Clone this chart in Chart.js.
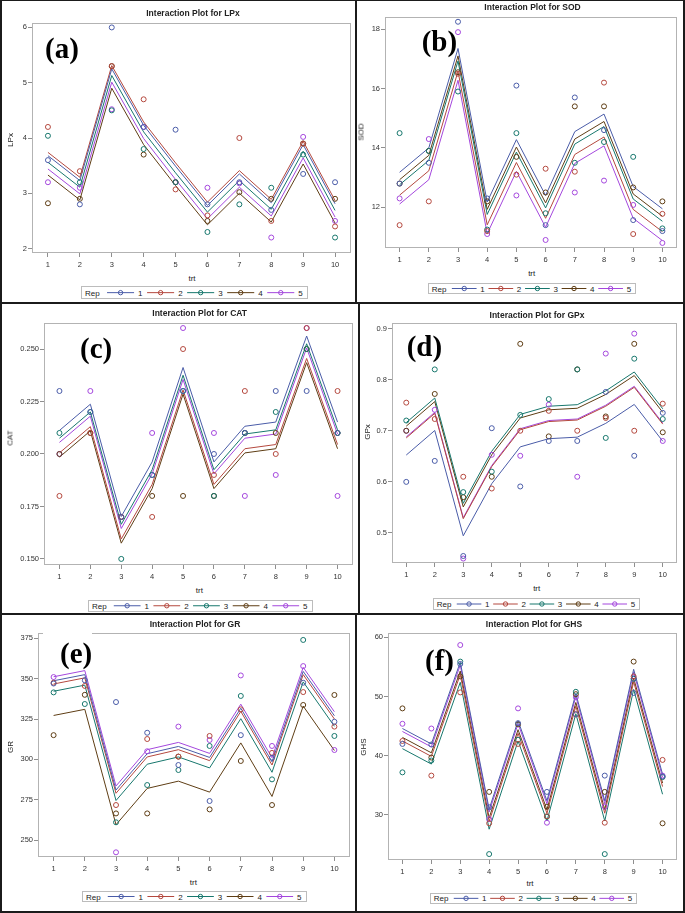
<!DOCTYPE html>
<html>
<head>
<meta charset="utf-8">
<title>Interaction plots</title>
<script src="https://cdn.jsdelivr.net/npm/chart.js@4.4.1/dist/chart.umd.min.js"></script>
<style>
  body { margin: 0; background: #fff; }
  #fig { position: relative; width: 685px; height: 913px; overflow: hidden; background: #fff;
         font-family: 'Liberation Sans', Arial, sans-serif; color: #222; }
  #fig canvas { position: absolute; }
  .rule { position: absolute; background: #1b1b1b; }
  .ptitle { position: absolute; font-size: 8.5px; font-weight: bold; white-space: nowrap; transform: translate(-50%, -50%); }
  .xlab { position: absolute; font-size: 8px; transform: translate(-50%, -50%); }
  .ylab { position: absolute; font-size: 8px; white-space: nowrap; transform: translate(-50%, -50%) rotate(-90deg); }
  .tag { position: absolute; font-family: 'Liberation Serif', 'Times New Roman', serif; font-weight: bold;
         font-size: 29px; line-height: 29px; color: #000; }
  .legend { position: absolute; border: 1px solid #bcbcbc; box-sizing: border-box; background: #fff; }
</style>
</head>
<body>
<div id="fig"></div>
<script>
// shared categories
const trt = [1, 2, 3, 4, 5, 6, 7, 8, 9, 10];
const reps = ['1', '2', '3', '4', '5'];
const repColors = ['#4a5ca8', '#b4483e', '#17776d', '#5e3d14', '#a447dd'];

// (a) LPx  - fitted lines per Rep, then observed values per Rep
const lpxTicks = [2, 3, 4, 5, 6];
const lpxFit = [
  [3.68, 3.23, 5.25, 4.23, 3.49, 2.78, 3.35, 2.83, 3.88, 2.81],
  [3.74, 3.29, 5.31, 4.29, 3.55, 2.84, 3.41, 2.89, 3.94, 2.87],
  [3.56, 3.11, 5.13, 4.11, 3.37, 2.66, 3.23, 2.71, 3.76, 2.69],
  [3.33, 2.88, 4.90, 3.88, 3.14, 2.43, 3.00, 2.48, 3.53, 2.46],
  [3.44, 2.99, 5.01, 3.99, 3.25, 2.54, 3.11, 2.59, 3.64, 2.57]
];
const lpxObs = [
  [3.6, 2.8, 6.0, 4.2, 4.15, 2.8, 3.2, 2.7, 3.35, 3.2],
  [4.2, 3.4, 5.3, 4.7, 3.07, 2.6, 4.0, 2.5, 3.9, 2.4],
  [4.04, 3.2, 4.5, 3.8, 3.2, 2.3, 2.8, 3.1, 3.7, 2.2],
  [2.82, 2.9, 5.3, 3.7, 3.2, 2.5, 3.02, 2.9, 3.9, 2.9],
  [3.2, 3.1, 4.52, 4.2, 3.2, 3.1, 3.18, 2.2, 4.02, 2.5]
];

// (b) SOD
const sodTicks = [12, 14, 16, 18];
const sodFit = [
  [13.18, 14.0, 17.35, 12.18, 14.28, 12.4, 14.55, 15.14, 12.7, 11.95],
  [12.41, 13.23, 16.58, 11.41, 13.51, 11.63, 13.78, 14.37, 11.93, 11.18],
  [12.76, 13.58, 16.93, 11.76, 13.86, 11.98, 14.13, 14.72, 12.28, 11.53],
  [12.93, 13.75, 17.1, 11.93, 14.03, 12.15, 14.3, 14.89, 12.45, 11.7],
  [12.11, 12.93, 16.28, 11.11, 13.21, 11.33, 13.48, 14.07, 11.63, 10.88]
];
const sodObs = [
  [12.8, 13.5, 18.25, 12.3, 16.1, 11.4, 15.7, 14.6, 11.57, 11.2],
  [11.4, 12.2, 16.5, 11.2, 13.1, 13.3, 13.2, 16.2, 11.1, 11.78],
  [14.5, 13.9, 15.9, 11.25, 14.5, 11.8, 13.5, 14.2, 13.7, 11.29],
  [12.8, 13.9, 16.55, 12.2, 13.7, 12.5, 15.4, 15.4, 12.67, 12.2],
  [12.3, 14.3, 17.9, 11.1, 12.4, 10.9, 12.5, 12.9, 12.08, 10.8]
];

// (c) CAT
const catTicks = [0.150, 0.175, 0.200, 0.225, 0.250];
const catFit = [
  [0.2112, 0.2237, 0.1702, 0.1962, 0.2412, 0.1962, 0.2132, 0.2152, 0.2562, 0.2152],
  [0.2005, 0.2130, 0.1595, 0.1855, 0.2305, 0.1855, 0.2025, 0.2045, 0.2455, 0.2045],
  [0.2075, 0.2200, 0.1665, 0.1925, 0.2375, 0.1925, 0.2095, 0.2115, 0.2525, 0.2115],
  [0.1985, 0.2110, 0.1575, 0.1835, 0.2285, 0.1835, 0.2005, 0.2025, 0.2435, 0.2025],
  [0.2055, 0.2180, 0.1645, 0.1905, 0.2355, 0.1905, 0.2075, 0.2095, 0.2505, 0.2095]
];
const catObs = [
  [0.23, 0.22, 0.17, 0.19, 0.23, 0.20, 0.21, 0.23, 0.23, 0.21],
  [0.18, 0.21, 0.17, 0.17, 0.25, 0.19, 0.23, 0.20, 0.26, 0.23],
  [0.21, 0.22, 0.15, 0.19, 0.23, 0.18, 0.21, 0.22, 0.25, 0.21],
  [0.20, 0.21, 0.17, 0.18, 0.18, 0.18, 0.21, 0.21, 0.25, 0.21],
  [0.20, 0.23, 0.17, 0.21, 0.26, 0.21, 0.18, 0.19, 0.26, 0.18]
];

// (d) GPx
const gpxTicks = [0.5, 0.6, 0.7, 0.8, 0.9];
const gpxFit = [
  [0.6525, 0.7005, 0.4945, 0.5965, 0.6685, 0.6845, 0.6875, 0.7145, 0.7515, 0.6795],
  [0.686, 0.734, 0.528, 0.630, 0.702, 0.718, 0.721, 0.748, 0.785, 0.713],
  [0.716, 0.764, 0.558, 0.660, 0.732, 0.748, 0.751, 0.778, 0.815, 0.743],
  [0.709, 0.757, 0.551, 0.653, 0.725, 0.741, 0.744, 0.771, 0.808, 0.736],
  [0.688, 0.736, 0.530, 0.632, 0.704, 0.720, 0.723, 0.750, 0.787, 0.715]
];
const gpxObs = [
  [0.60, 0.641, 0.455, 0.705, 0.591, 0.68, 0.68, 0.776, 0.651, 0.735],
  [0.755, 0.723, 0.61, 0.587, 0.70, 0.739, 0.70, 0.725, 0.70, 0.753],
  [0.72, 0.82, 0.58, 0.62, 0.731, 0.762, 0.82, 0.686, 0.841, 0.723],
  [0.70, 0.772, 0.57, 0.61, 0.87, 0.689, 0.82, 0.728, 0.87, 0.697],
  [0.70, 0.741, 0.45, 0.653, 0.651, 0.751, 0.61, 0.851, 0.89, 0.68]
];

// (e) GR
const grTicks = [250, 275, 300, 325, 350, 375];
const grFit = [
  [348.7, 352.5, 281, 303.5, 308, 301.2, 331.7, 298.5, 354.5, 327],
  [346.7, 350.5, 279, 301.5, 306, 299.2, 329.7, 296.5, 352.5, 325],
  [342.2, 346, 274.5, 297, 301.5, 294.7, 325.2, 292, 348, 320.5],
  [327.2, 331, 259.5, 282, 286.5, 279.7, 310.2, 277, 333, 305.5],
  [351.2, 355, 283.5, 306, 310.5, 303.7, 334.2, 301, 357, 329.5]
];
const grObs = [
  [347, 349, 335.5, 316.5, 296.5, 274.2, 315, 301, 347.5, 323.3],
  [347.5, 345.5, 271.7, 312.6, 301.7, 314.5, 331, 304, 341.7, 320.3],
  [341.5, 334.3, 261, 284.1, 293.4, 308.3, 339.3, 287.6, 374, 314.5],
  [315, 340, 266.5, 266.5, 301.7, 269, 299, 271.7, 333.7, 339.9],
  [351, 371, 242.4, 305, 320.3, 312, 352, 308.3, 357.8, 305.8]
];

// (f) GHS
const ghsTicks = [30, 40, 50, 60];
const ghsFit = [
  [44.6, 42.0, 55.8, 31.0, 45.9, 32.4, 50.5, 32.4, 54.6, 36.9],
  [42.5, 39.9, 53.7, 28.9, 43.8, 30.3, 48.4, 30.3, 52.5, 34.8],
  [41.2, 38.6, 52.4, 27.6, 42.5, 29.0, 47.1, 29.0, 51.2, 33.5],
  [43.1, 40.5, 54.3, 29.5, 44.4, 30.9, 49.0, 30.9, 53.1, 35.4],
  [44.1, 41.5, 55.3, 30.5, 45.4, 31.9, 50.0, 31.9, 54.1, 36.4]
];
const ghsObs = [
  [42, 41.9, 55.5, 31.3, 45.5, 33.9, 47, 36.65, 50.6, 36.5],
  [42.5, 36.65, 50.7, 28.6, 42, 29.8, 47, 28.7, 53.4, 39.3],
  [37.2, 39.2, 55.9, 23.4, 42.7, 29.7, 50.8, 23.4, 53, 36.4],
  [48, 39.7, 53.4, 33.9, 45.3, 31.4, 50.4, 33.9, 55.9, 28.6],
  [45.4, 44.6, 58.7, 29.3, 48, 28.7, 49.9, 31.4, 53, 36.65]
];

// layout of the six panels (page pixels)
const panels = [
  { tag: '(a)', title: 'Interaction Plot for LPx', yName: 'LPx', fit: lpxFit, obs: lpxObs, ticks: lpxTicks, dec: 0,
    yMin: 1.92, yMax: 6.08, canvas: [2, 17, 354, 254], frame: [32, 23, 352, 253],
    titleAt: [193, 13], yLabAt: [10, 140], xLabAt: [192, 278], legend: [80.7, 285.7, 227.3, 13.3], tagAt: [45, 33.7] },
  { tag: '(b)', title: 'Interaction Plot for SOD', yName: 'SOD', fit: sodFit, obs: sodObs, ticks: sodTicks, dec: 0,
    yMin: 10.63, yMax: 18.41, canvas: [358, 11, 324, 255], frame: [385, 17, 679, 248],
    titleAt: [532.5, 7], yLabAt: [360.7, 131.7], xLabAt: [531.7, 273.3], legend: [428.3, 282.7, 207.7, 11], tagAt: [421.7, 27.4] },
  { tag: '(c)', title: 'Interaction Plot for CAT', yName: 'CAT', fit: catFit, obs: catObs, ticks: catTicks, dec: 3,
    yMin: 0.1471, yMax: 0.2624, canvas: [2, 316, 356, 267], frame: [44, 323, 356, 565],
    titleAt: [199.7, 313], yLabAt: [10, 438.3], xLabAt: [199.3, 590], legend: [88.3, 600, 225, 11.5], tagAt: [80, 334] },
  { tag: '(d)', title: 'Interaction Plot for GPx', yName: 'GPx', fit: gpxFit, obs: gpxObs, ticks: gpxTicks, dec: 1,
    yMin: 0.4413, yMax: 0.9108, canvas: [361, 316, 321, 265], frame: [392, 323, 681, 563],
    titleAt: [537, 314.5], yLabAt: [366.7, 431.7], xLabAt: [536.7, 588.3], legend: [433.3, 598.3, 206.7, 12], tagAt: [406.7, 332.4] },
  { tag: '(e)', title: 'Interaction Plot for GR', yName: 'GR', fit: grFit, obs: grObs, ticks: grTicks, dec: 0,
    yMin: 239.5, yMax: 378.3, canvas: [2, 627, 353, 248], frame: [38, 633, 353, 857],
    titleAt: [195, 623.5], yLabAt: [10, 746.7], xLabAt: [193.3, 881.7], legend: [81.7, 890.7, 225, 11], tagAt: [60, 639], tagBg: true },
  { tag: '(f)', title: 'Interaction Plot for GHS', yName: 'GHS', fit: ghsFit, obs: ghsObs, ticks: ghsTicks, dec: 0,
    yMin: 22.4, yMax: 60.73, canvas: [358, 627, 324, 251], frame: [388, 633, 680, 860],
    titleAt: [534, 623.5], yLabAt: [363.3, 746.7], xLabAt: [530, 883.3], legend: [430, 893.3, 206.7, 10.7], tagAt: [425, 645.7] }
];

const fig = document.getElementById('fig');
const tickFont = { family: "'Liberation Sans', Arial, sans-serif", size: 7.5 };

// light grey box around each plot area
const frameBox = {
  id: 'frameBox',
  beforeDatasetsDraw(chart) {
    const a = chart.chartArea, c = chart.ctx;
    c.save();
    c.strokeStyle = '#b3b3b3';
    c.lineWidth = 1;
    c.strokeRect(Math.round(a.left) + 0.5, Math.round(a.top) + 0.5,
                 Math.round(a.right - a.left) - 1, Math.round(a.bottom - a.top) - 1);
    c.restore();
  }
};

function addEl(cls, text, x, y) {
  const d = document.createElement('div');
  d.className = cls;
  d.textContent = text;
  d.style.left = x + 'px';
  d.style.top = y + 'px';
  fig.appendChild(d);
  return d;
}

function buildDatasets(fit, obs) {
  const sets = [];
  reps.forEach((rep, r) => {
    sets.push({
      label: 'Rep ' + rep,
      data: trt.map((t, i) => ({ x: t, y: fit[r][i] })),
      showLine: true, borderColor: repColors[r], borderWidth: 1,
      pointRadius: 0, order: 2
    });
  });
  reps.forEach((rep, r) => {
    sets.push({
      label: 'obs ' + rep,
      data: trt.map((t, i) => ({ x: t, y: obs[r][i] })),
      showLine: false, borderColor: repColors[r], backgroundColor: 'rgba(0,0,0,0)',
      pointRadius: 2.5, pointBorderWidth: 1, clip: false, order: 1
    });
  });
  return sets;
}

function buildLegend(box) {
  const [x, y, w, h] = box;
  const d = document.createElement('div');
  d.className = 'legend';
  Object.assign(d.style, { left: x + 'px', top: y + 'px', width: w + 'px', height: h + 'px' });
  const s = w / 227;
  const cy = (h - 2) / 2;
  let svg = '<svg width="' + w + '" height="' + h + '" style="position:absolute;left:0;top:0" ' +
            'font-family="Liberation Sans, Arial, sans-serif" font-size="8" fill="#222">';
  svg += '<text x="' + (3 * s) + '" y="' + (cy + 3) + '">Rep</text>';
  reps.forEach((rep, i) => {
    const x0 = (25 + 40 * i) * s, x1 = x0 + 27 * s;
    svg += '<line x1="' + x0 + '" y1="' + cy + '" x2="' + x1 + '" y2="' + cy + '" stroke="' + repColors[i] + '" stroke-width="1"/>';
    svg += '<circle cx="' + ((x0 + x1) / 2) + '" cy="' + cy + '" r="2.2" fill="none" stroke="' + repColors[i] + '" stroke-width="1"/>';
    svg += '<text x="' + (x1 + 4 * s) + '" y="' + (cy + 3) + '">' + rep + '</text>';
  });
  svg += '</svg>';
  d.innerHTML = svg;
  fig.appendChild(d);
}

function drawPanel(p) {
  const [cx, cy, cw, ch] = p.canvas;
  const [fl, ft, fr, fb] = p.frame;
  const cv = document.createElement('canvas');
  cv.width = cw;
  cv.height = ch;
  cv.style.left = cx + 'px';
  cv.style.top = cy + 'px';
  fig.appendChild(cv);

  new Chart(cv.getContext('2d'), {
    type: 'scatter',
    data: { datasets: buildDatasets(p.fit, p.obs) },
    options: {
      responsive: false,
      animation: false,
      devicePixelRatio: 1,
      layout: { padding: { left: 0, top: ft - cy, right: cx + cw - fr, bottom: 0 } },
      plugins: { legend: { display: false }, tooltip: { enabled: false } },
      scales: {
        x: {
          type: 'linear', min: 0.5, max: 10.5,
          afterBuildTicks: s => { s.ticks = trt.map(v => ({ value: v })); },
          afterFit: s => { s.height = cy + ch - fb; },
          ticks: { font: tickFont, color: '#333', padding: 3, maxRotation: 0, autoSkip: false,
                   callback: v => String(v) },
          grid: { drawOnChartArea: false, tickLength: 4, color: '#8f8f8f' },
          border: { display: false }
        },
        y: {
          type: 'linear', min: p.yMin, max: p.yMax,
          afterBuildTicks: s => { s.ticks = p.ticks.map(v => ({ value: v })); },
          afterFit: s => { s.width = fl - cx; },
          ticks: { font: tickFont, color: '#333', padding: 1, callback: v => v.toFixed(p.dec) },
          grid: { drawOnChartArea: false, tickLength: 4, color: '#8f8f8f' },
          border: { display: false }
        }
      }
    },
    plugins: [frameBox]
  });

  addEl('ptitle', p.title, p.titleAt[0], p.titleAt[1]);
  addEl('ylab', p.yName, p.yLabAt[0], p.yLabAt[1]);
  addEl('xlab', 'trt', p.xLabAt[0], p.xLabAt[1]);
  buildLegend(p.legend);
  const t = addEl('tag', p.tag, p.tagAt[0], p.tagAt[1]);
  if (p.tagBg) {
    t.style.background = '#fff';
    t.style.padding = '6px 0 1px 17px';
    t.style.left = (p.tagAt[0] - 17) + 'px';
    t.style.top = (p.tagAt[1] - 6) + 'px';
  }
}

panels.forEach(drawPanel);

// black panel borders
const rules = [
  [0, 0, 685, 1], [0, 0, 1.5, 913], [683, 0, 2, 913], [0, 911, 685, 2],
  [0, 302, 685, 2], [0, 613, 685, 2],
  [355, 0, 2, 303], [358, 303, 2, 311], [355, 614, 2, 299]
];
rules.forEach(([x, y, w, h]) => {
  const r = document.createElement('div');
  r.className = 'rule';
  Object.assign(r.style, { left: x + 'px', top: y + 'px', width: w + 'px', height: h + 'px' });
  fig.appendChild(r);
});
</script>
</body>
</html>
